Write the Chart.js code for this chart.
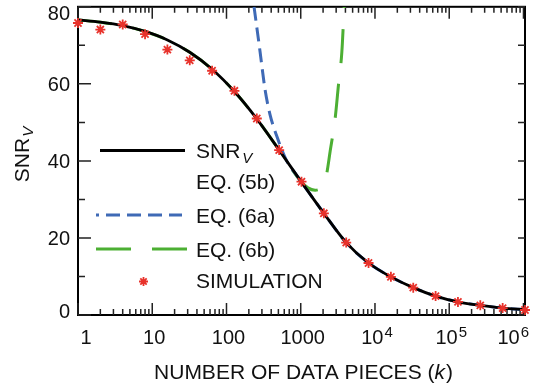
<!DOCTYPE html>
<html>
<head>
<meta charset="utf-8">
<script src="https://cdn.jsdelivr.net/npm/chart.js@4.4.0/dist/chart.umd.min.js"></script>
<style>
  html, body { margin: 0; padding: 0; background: #fff; }
  #wrap { width: 533px; height: 390px; position: relative; }
</style>
</head>
<body>
<div id="wrap"><canvas id="snrChart"></canvas></div>
<script>
// data (k = number of data pieces)
const kValues = [1, 2, 4, 8, 16, 32, 64, 128, 256, 512, 1024, 2048, 4096, 8192, 16384, 32768, 65536, 131072, 262144, 524288, 1048576];
const snrEq5b = [76.6, 76.0, 75.1, 73.6, 71.4, 68.2, 63.8, 58.0, 50.9, 42.8, 34.5, 26.4, 18.8, 13.5, 9.9, 7.1, 4.9, 3.4, 2.5, 1.8, 1.4];
const snrSim = [75.8, 74.1, 75.4, 72.9, 68.9, 66.1, 63.4, 58.2, 51.0, 42.8, 34.6, 26.4, 18.8, 13.5, 9.9, 7.1, 4.9, 3.4, 2.5, 1.8, 1.3];

const eq6aK = [235, 283, 330, 385, 474, 647, 863, 1024, 2048, 4096, 8192, 16384, 32768, 65536, 131072, 262144, 524288, 1048576];
const eq6aSnr = [80, 68.4, 58.6, 52.1, 46.5, 40.0, 36.5, 34.5, 26.4, 18.8, 13.5, 9.9, 7.1, 4.9, 3.4, 2.5, 1.8, 1.4];

const eq6bK = [1, 2, 4, 8, 16, 32, 64, 128, 256, 512, 1024, 1250, 1563, 1900, 2120, 2249, 2490, 2910, 3222, 3580, 3845];
const eq6bSnr = [76.6, 76.0, 75.1, 73.6, 71.4, 68.2, 63.8, 58.0, 50.9, 42.8, 34.5, 33.0, 32.4, 33.1, 34.8, 36.9, 42.5, 51.1, 59.7, 68.3, 80];

const xTickValues = [1, 10, 100, 1000, 1e4, 1e5, 1e6];
const xTickBase = ['1', '10', '100', '1000', '10', '10', '10'];
const xTickExp = ['', '', '', '', '4', '5', '6'];
const yTickValues = [0, 20, 40, 60, 80];

const FONT = '"Liberation Sans", Arial, Helvetica, sans-serif';
const TEXT = '#111';
const colors = { black: '#000000', blue: '#3f6ab6', green: '#4caf33', red: '#e8322b' };

const toPoints = (xs, ys) => xs.map((k, i) => ({ x: k, y: ys[i] }));

function drawStar(ctx, x, y, r) {
    ctx.beginPath();
    for (let i = 0; i < 4; i++) {
        const a = i * Math.PI / 4;
        ctx.moveTo(x - r * Math.cos(a), y - r * Math.sin(a));
        ctx.lineTo(x + r * Math.cos(a), y + r * Math.sin(a));
    }
    ctx.stroke();
}

const paperAxes = {
    id: 'paperAxes',
    beforeDatasetsDraw(chart) {
        const { ctx, chartArea: a, scales: { x, y } } = chart;
        ctx.save();
        ctx.strokeStyle = '#000';
        ctx.lineWidth = 2;
        ctx.strokeRect(a.left, a.top, a.right - a.left, a.bottom - a.top);

        ctx.lineWidth = 1.5;
        ctx.strokeStyle = '#222';
        ctx.beginPath();
        for (let d = 1; d <= x.max; d *= 10) {
            for (let m = 1; m <= 9; m++) {
                const v = d * m;
                if (v > x.max) break;
                const px = x.getPixelForValue(v);
                const len = m === 1 ? 12 : 6;
                ctx.moveTo(px, a.bottom); ctx.lineTo(px, a.bottom - len);
                ctx.moveTo(px, a.top); ctx.lineTo(px, a.top + len);
            }
        }
        for (let v = 0; v <= 80; v += 10) {
            const py = y.getPixelForValue(v);
            const len = v % 20 === 0 ? 13 : 7;
            ctx.moveTo(a.left, py); ctx.lineTo(a.left + len, py);
            ctx.moveTo(a.right, py); ctx.lineTo(a.right - 7, py);
        }
        ctx.stroke();
        ctx.restore();
    },
    afterDraw(chart) {
        const { ctx, chartArea: a, scales: { x, y } } = chart;
        ctx.save();
        ctx.fillStyle = TEXT;

        // x tick labels (10^n drawn with a raised exponent)
        xTickValues.forEach((v, i) => {
            ctx.font = '20px ' + FONT;
            const wb = ctx.measureText(xTickBase[i]).width;
            ctx.font = '15px ' + FONT;
            const we = xTickExp[i] ? ctx.measureText(xTickExp[i]).width + 1 : 0;
            let px = Math.max(x.getPixelForValue(v) + 2, a.left + 8);
            px = Math.min(px, 529 - (wb + we) / 2);
            const left = px - (wb + we) / 2;
            ctx.textAlign = 'left';
            ctx.font = '20px ' + FONT;
            ctx.fillText(xTickBase[i], left, 343.5);
            if (xTickExp[i]) {
                ctx.font = '15px ' + FONT;
                ctx.fillText(xTickExp[i], left + wb + 1, 336.5);
            }
        });

        // y tick labels
        ctx.font = '20px ' + FONT;
        ctx.textAlign = 'right';
        yTickValues.forEach(v => {
            const py = Math.min(Math.max(y.getPixelForValue(v), 13), 311);
            ctx.fillText(String(v), 70, py + 7);
        });

        // x title
        ctx.textAlign = 'left';
        const p1 = 'NUMBER OF DATA PIECES (', p2 = 'k', p3 = ')';
        ctx.font = '21px ' + FONT;
        const w1 = ctx.measureText(p1).width, w3 = ctx.measureText(p3).width;
        ctx.font = 'italic 21px ' + FONT;
        const w2 = ctx.measureText(p2).width;
        const tx = 303 - (w1 + w2 + w3) / 2;
        ctx.font = '21px ' + FONT;
        ctx.fillText(p1, tx, 378.5);
        ctx.font = 'italic 21px ' + FONT;
        ctx.fillText(p2, tx + w1, 378.5);
        ctx.font = '21px ' + FONT;
        ctx.fillText(p3, tx + w1 + w2 + 1, 378.5);

        // y title, rotated
        ctx.save();
        ctx.translate(22, 155);
        ctx.rotate(-Math.PI / 2);
        ctx.font = '21px ' + FONT;
        const ws = ctx.measureText('SNR').width;
        ctx.font = 'italic 15px ' + FONT;
        const wv = ctx.measureText('V').width;
        const sx = -(ws + wv) / 2;
        ctx.font = '21px ' + FONT;
        ctx.fillText('SNR', sx, 7);
        ctx.font = 'italic 15px ' + FONT;
        ctx.fillText('V', sx + ws + 1, 11);
        ctx.restore();

        // legend
        ctx.lineWidth = 3;
        ctx.strokeStyle = colors.black;
        ctx.setLineDash([]);
        ctx.beginPath(); ctx.moveTo(100, 150.5); ctx.lineTo(185, 150.5); ctx.stroke();
        ctx.strokeStyle = colors.blue;
        ctx.setLineDash([14, 7]);
        ctx.lineDashOffset = 11;
        ctx.beginPath(); ctx.moveTo(96, 215); ctx.lineTo(182, 215); ctx.stroke();
        ctx.strokeStyle = colors.green;
        ctx.setLineDash([35, 21]);
        ctx.lineDashOffset = 0;
        ctx.beginPath(); ctx.moveTo(96, 249); ctx.lineTo(187, 249); ctx.stroke();
        ctx.setLineDash([]);
        ctx.strokeStyle = colors.red;
        ctx.lineWidth = 1.8;
        drawStar(ctx, 143.5, 281.5, 4.5);

        ctx.fillStyle = TEXT;
        ctx.font = '21px ' + FONT;
        ctx.fillText('SNR', 196, 158);
        const wsl = ctx.measureText('SNR').width;
        ctx.font = 'italic 15px ' + FONT;
        ctx.fillText('V', 196 + wsl + 2, 163);
        ctx.font = '21px ' + FONT;
        ctx.fillText('EQ. (5b)', 196, 188.5);
        ctx.fillText('EQ. (6a)', 196, 222.5);
        ctx.fillText('EQ. (6b)', 196, 256.5);
        ctx.fillText('SIMULATION', 196, 287.5);
        ctx.restore();
    }
};

new Chart(document.getElementById('snrChart'), {
    type: 'line',
    data: {
        datasets: [
            {
                label: 'SIMULATION',
                data: toPoints(kValues, snrSim),
                showLine: false,
                pointStyle: 'star',
                pointRadius: 5,
                pointBorderWidth: 1.8,
                pointBorderColor: colors.red,
                pointBackgroundColor: colors.red,
                clip: false
            },
            {
                label: 'SNR_V EQ. (5b)',
                data: toPoints(kValues, snrEq5b),
                borderColor: colors.black,
                borderWidth: 2.8,
                pointRadius: 0,
                cubicInterpolationMode: 'monotone'
            },
            {
                label: 'EQ. (6a)',
                data: toPoints(eq6aK, eq6aSnr),
                borderColor: colors.blue,
                borderWidth: 3,
                borderDash: [14, 7],
                pointRadius: 0,
                cubicInterpolationMode: 'monotone'
            },
            {
                label: 'EQ. (6b)',
                data: toPoints(eq6bK, eq6bSnr),
                borderColor: colors.green,
                borderWidth: 3,
                borderDash: [34, 21],
                pointRadius: 0,
                cubicInterpolationMode: 'monotone'
            }
        ]
    },
    options: {
        responsive: true,
        maintainAspectRatio: false,
        animation: false,
        layout: { padding: { left: 78, right: 8, top: 5, bottom: 75 } },
        plugins: { legend: { display: false }, tooltip: { enabled: false } },
        scales: {
            x: { type: 'logarithmic', min: 1, max: 1048576, display: false },
            y: { type: 'linear', min: 0, max: 80, display: false }
        }
    },
    plugins: [paperAxes]
});
</script>
</body>
</html>
